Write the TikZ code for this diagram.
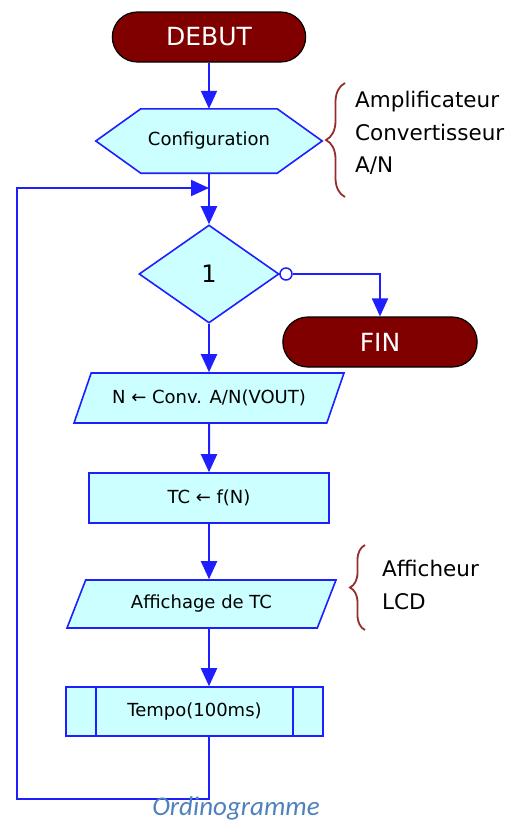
\documentclass[tikz,border=0pt]{standalone}
\usepackage{fontspec}
\setmainfont{DejaVu Sans}
\newfontfamily\capfont{Carlito}
\usetikzlibrary{arrows.meta,calc,shapes.geometric,shapes.misc,decorations.pathreplacing,backgrounds}
\definecolor{flowblue}{RGB}{30,30,255}
\definecolor{termred}{RGB}{128,0,0}
\definecolor{boxcyan}{RGB}{204,255,255}
\definecolor{bracered}{RGB}{150,45,45}
\definecolor{capblue}{RGB}{79,129,189}

\begin{document}
\begin{tikzpicture}[x=1pt,y=-1pt,
  terminal/.style={rounded rectangle,draw=black,line width=1.2pt,fill=termred,text=white,
    minimum width=200pt,minimum height=50pt,font=\fontsize{25}{28}\selectfont},
  box/.style={draw=flowblue,line width=1.6pt,fill=boxcyan,inner sep=0pt,font=\fontsize{18}{21}\selectfont},
  flow/.style={flowblue,line width=2pt,-{Triangle[width=16pt,length=18pt]}},
  line/.style={flowblue,line width=2pt},
  note/.style={align=left,anchor=west,inner sep=0pt,font=\fontsize{21.5}{32.5}\selectfont},
  bracket/.style={bracered,line width=1.8pt,decorate,decoration={brace,amplitude=19pt}}]
\useasboundingbox (0,0) rectangle (522,823);
\coordinate (spine) at (209,0);

% blocs
\node[terminal] (debut) at (209,37) {DEBUT};
\node[inner sep=0pt,minimum width=226pt,minimum height=64pt,font=\fontsize{18}{21}\selectfont] (cfg) at (209,141) {Configuration};
\begin{scope}[on background layer]
\draw[box] (cfg.west) -- ($(cfg.north west)+(45,0)$) -- ($(cfg.north east)+(-45,0)$) -- (cfg.east)
  -- ($(cfg.south east)+(-45,0)$) -- ($(cfg.south west)+(45,0)$) -- cycle;
\end{scope}
\node[box,diamond,aspect=1.43,minimum width=140pt,minimum height=98pt,font=\fontsize{24}{26}\selectfont] (dec) at (209,274) {1};
\node[circle,draw=flowblue,line width=1.5pt,fill=white,minimum size=12pt,inner sep=0pt] (nogo) at (286,274) {};
\node[terminal,minimum width=201pt] (fin) at (380,342) {FIN};
\node[box,trapezium,trapezium left angle=43,trapezium right angle=137,trapezium stretches body,
  minimum width=270pt,minimum height=50pt] (conv) at (209,398) {N ← Conv. A/N(VOUT)};
\node[box,minimum width=240pt,minimum height=50pt] (tc) at (209,498) {TC ← f(N)};
\node[box,trapezium,trapezium left angle=43,trapezium right angle=137,trapezium stretches body,
  minimum width=269pt,minimum height=48pt] (aff) at (201.5,604) {Affichage de TC};
\node[box,minimum width=257pt,minimum height=49pt] (tempo) at (194.5,711.5) {Tempo(100ms)};
\draw[line] ($(tempo.north west)+(31,0)$) -- ($(tempo.south west)+(31,0)$);
\draw[line] ($(tempo.north east)+(-31,0)$) -- ($(tempo.south east)+(-31,0)$);

% liaisons
\coordinate (loopbl) at (17,799);
\coordinate (join) at (209,188);
\draw[flow] (debut.south -| spine) -- (cfg.north -| spine);
\draw[flow] (cfg.south -| spine) -- (dec.north -| spine);
\draw[line] (dec.east) -- (nogo.west);
\draw[flow] (nogo.east) -| (fin.north);
\draw[flow] (dec) -- (conv);
\draw[flow] (conv) -- (tc);
\draw[flow] (tc.south) -- (aff.north -| spine);
\draw[flow] (aff.south -| spine) -- (tempo.north -| spine);
\draw[flow] (tempo.south -| spine) |- (loopbl) |- (join);

% commentaires
\node[note] (amp) at (355,133) {Amplificateur\\Convertisseur\\A/N};
\draw[bracket] (345,197) -- (345,83);
\node[note] (lcd) at (382,585) {Afficheur\\LCD};
\draw[bracket,decoration={amplitude=15pt}] (365,630) -- (365,545);

\node[font=\capfont\itshape\fontsize{27}{29}\selectfont,text=capblue,anchor=base,inner sep=0pt] (cap) at (236,815) {Ordinogramme};
\end{tikzpicture}
\end{document}
